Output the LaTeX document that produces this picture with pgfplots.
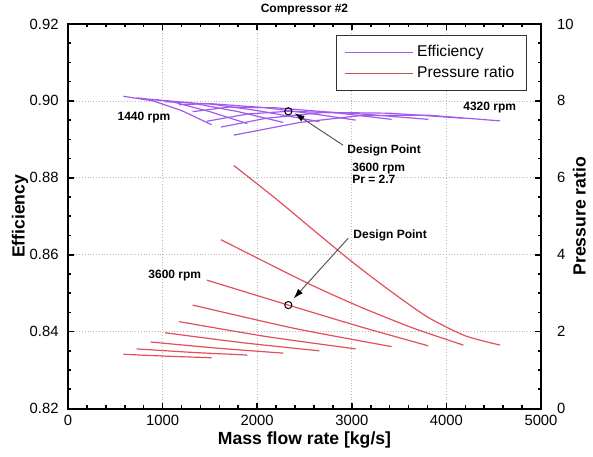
\documentclass[border=0pt]{standalone}
\usepackage{fontspec}
\setmainfont{Liberation Sans}
\usepackage{pgfplots}
\pgfplotsset{compat=1.18}
\usetikzlibrary{arrows.meta}

\definecolor{effcol}{RGB}{162,90,238}
\definecolor{prcol}{RGB}{228,78,92}
\definecolor{prleg}{RGB}{190,80,80}

\tikzset{anno/.style={font=\fontsize{6}{5.8}\selectfont\bfseries, inner sep=0pt}}

\pgfplotsset{
  effline/.style={color=effcol, line width=0.6pt},
  prline/.style={color=prcol, line width=0.6pt, smooth, tension=0.4},
  base/.style={
    scale only axis,
    width=236.5pt, height=192.25pt,
    xmin=0, xmax=5000,
    /pgf/number format/assume math mode=true,
    /pgf/number format/1000 sep={},
    tick label style={font=\fontsize{7.4}{8}\selectfont},
    tick align=inside,
    major tick length=3pt, minor tick length=1.6pt,
    every tick/.style={black, line width=0.8pt},
    axis line style={line width=1pt},
    label style={font=\fontsize{8.8}{10}\selectfont\bfseries},
  },
}

\begin{document}
\begin{tikzpicture}
\useasboundingbox (-34pt,-23.75pt) rectangle (262.5pt,204.25pt);

% efficiency
\begin{axis}[
  base,
  ymin=0.82, ymax=0.92,
  xtick={0,1000,...,5000},
  minor x tick num=4,
  ytick={0.82,0.84,...,0.92},
  minor y tick num=3,
  xtick pos=both, ytick pos=left,
  yticklabel style={/pgf/number format/fixed, /pgf/number format/fixed zerofill, /pgf/number format/precision=2, xshift=-1.2pt},
  scaled y ticks=false,
  grid=major,
  grid style={densely dotted, gray!55, line width=0.4pt},
  xlabel={Mass flow rate [kg/s]},
  ylabel={Efficiency},
  xlabel style={at={(axis description cs:0.5,-0.082)}, anchor=center},
  ylabel style={at={(axis description cs:-0.1015,0.5)}, anchor=center, rotate=0},
  title={Compressor \#2},
  every axis title shift=0pt,
  title style={font=\fontsize{6}{7}\selectfont\bfseries, at={(axis description cs:0.5,1)}, anchor=south, yshift=1pt},
]
% speed lines 1440 ... 4320 rpm
\addplot[effline] coordinates {(585,0.9012) (900,0.9000) (1200,0.8975) (1519,0.8938)};
\addplot[effline] coordinates {(726,0.9008) (1100,0.8998) (1500,0.8972) (1896,0.8941)};
\addplot[effline] coordinates {(874,0.9004) (1300,0.8995) (1800,0.8972) (2276,0.8944)};
\addplot[effline] coordinates {(1025,0.8998) (1500,0.8992) (2000,0.8975) (2657,0.8946)};
\addplot[effline] coordinates {(1173,0.8990) (1500,0.8993) (2100,0.8982) (2600,0.8966) (3041,0.8950)};
\addplot[effline] coordinates {(1318,0.8972) (1700,0.8984) (2200,0.8982) (2800,0.8970) (3421,0.8952)};
\addplot[effline] coordinates {(1466,0.8947) (1900,0.8966) (2329,0.8973) (3000,0.8968) (3809,0.8952)};
\addplot[effline] coordinates {(1617,0.8932) (2100,0.8955) (2700,0.8970) (3400,0.8968) (4179,0.8955)};
\addplot[effline] coordinates {(1753,0.8911) (2450,0.8944) (3100,0.8962) (3800,0.8963) (4567,0.8948)};
% design point
\addplot[only marks, mark=o, mark size=1.8pt, mark options={black, line width=0.5pt}] coordinates {(2329,0.8973)};

\node[anno, anchor=west] at (axis cs:520,0.8956) {1440 rpm};
\node[anno, anchor=west] at (axis cs:4175,0.8982) {4320 rpm};
\node[anno, anchor=west] at (axis cs:2950,0.8872) {Design Point};
\node[anno, anchor=north west, align=left] at (axis cs:3002,0.8838) {3600 rpm\\Pr = 2.7};
\draw[gray!70!black, line width=0.5pt, -{Latex[color=black, length=5pt, width=3.2pt]}]
  (axis cs:2907,0.8885) -- (axis cs:2395,0.8968);
\end{axis}

% pressure ratio
\begin{axis}[
  base,
  ymin=0, ymax=10,
  ytick={0,2,...,10},
  minor y tick num=3,
  axis x line=none,
  axis y line*=right,
  ytick pos=right,
  yticklabel style={xshift=4.5pt},
  ylabel={Pressure ratio},
  ylabel style={at={(axis description cs:1.081,0.5)}, anchor=center, rotate=0},
  legend style={
    at={(axis description cs:0.970,0.971)}, anchor=north east,
    draw=black!80, line width=0.5pt,
    font=\fontsize{7.8}{9}\selectfont,
    inner xsep=4pt, inner ysep=3pt,
    row sep=-1pt,
    cells={anchor=west},
  },
  legend image code/.code={\draw[#1] (0pt,0pt) -- (34pt,0pt);},
]
\addlegendimage{color=effcol, line width=0.6pt}
\addlegendentry{Efficiency}
\addlegendimage{color=prleg, line width=0.6pt}
\addlegendentry{Pressure ratio}

\addplot[prline, forget plot] coordinates {(585,1.41) (1050,1.36) (1519,1.32)};
\addplot[prline, forget plot] coordinates {(726,1.55) (1310,1.46) (1896,1.39)};
\addplot[prline, forget plot] coordinates {(874,1.73) (1575,1.57) (2276,1.44)};
\addplot[prline, forget plot] coordinates {(1025,1.97) (1850,1.71) (2657,1.50)};
\addplot[prline, forget plot] coordinates {(1173,2.26) (2100,1.87) (3041,1.55)};
\addplot[prline, forget plot] coordinates {(1318,2.69) (2400,2.08) (3421,1.61)};
\addplot[prline, forget plot] coordinates {(1466,3.34) (2329,2.69) (3100,2.12) (3809,1.63)};
\addplot[prline, forget plot] coordinates {(1617,4.39) (2100,3.79) (2600,3.18) (3100,2.63) (3650,2.09) (4179,1.65)};
\addplot[prline, forget plot] coordinates {(1753,6.32) (2200,5.45) (2600,4.63) (3000,3.82) (3400,3.07) (3800,2.38) (4200,1.89) (4567,1.65)};
\addplot[only marks, mark=o, mark size=1.8pt, mark options={black, line width=0.5pt}, forget plot] coordinates {(2329,2.69)};

\node[anno, anchor=west] at (axis cs:3013,4.49) {Design Point};
\node[anno, anchor=west] at (axis cs:846,3.47) {3600 rpm};
\draw[gray!70!black, line width=0.5pt, -{Latex[color=black, length=5pt, width=3.2pt]}]
  (axis cs:2963,4.43) -- (axis cs:2385,2.86);
\end{axis}
\end{tikzpicture}
\end{document}
